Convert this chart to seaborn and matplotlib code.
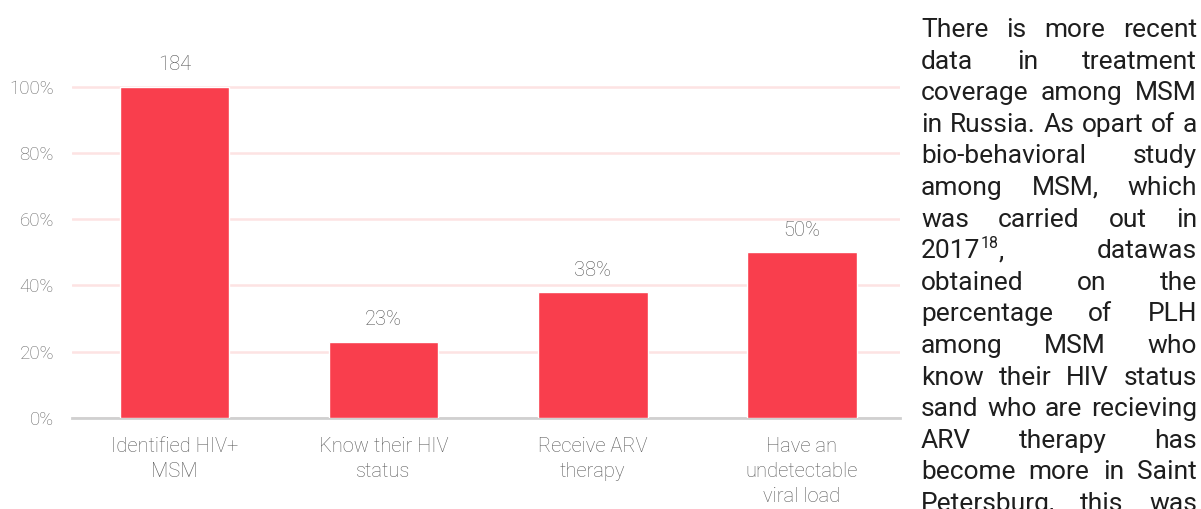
import matplotlib
matplotlib.use("Agg")
import matplotlib.pyplot as plt
import seaborn as sns

# data
categories = ["Identified HIV+\nMSM", "Know their HIV\nstatus", "Receive ARV\ntherapy",
              "Have an\nundetectable\nviral load"]
values = [100, 23, 38, 50]
value_labels = ["184", "23%", "38%", "50%"]
yticks = [0, 20, 40, 60, 80, 100]
ytick_labels = ["0%", "20%", "40%", "60%", "80%", "100%"]

paragraph = [
    "There is more recent",
    "data in treatment",
    "coverage among MSM",
    "in Russia. As opart of a",
    "bio-behavioral study",
    "among MSM, which",
    "was carried out in",
    "2017^18, datawas",
    "obtained on the",
    "percentage of PLH",
    "among MSM who",
    "know their HIV status",
    "sand who are recieving",
    "ARV therapy has",
    "become more in Saint",
    "Petersburg, this was",
]

bar_color = "#F93E4D"
W, H = 1201, 509

sns.set_theme(style="white")
plt.rcParams["font.family"] = ["Roboto", "DejaVu Sans"]

fig = plt.figure(figsize=(W / 100, H / 100), dpi=100)
ax = fig.add_axes([72 / W, (H - 418) / H, (900 - 72) / W, (418 - 60) / H])

sns.barplot(x=categories, y=values, color=bar_color, saturation=1, width=0.525, ax=ax, zorder=3)
ax.bar_label(ax.containers[0], labels=value_labels, padding=9, fontsize=14.5,
             color="#555555", fontweight="light")

ax.set_ylim(0, 108)
ax.set_xlim(-0.49, 3.47)
ax.set_yticks(yticks)
ax.set_yticklabels(ytick_labels)
ax.grid(axis="y", color="#FDE3E3", linewidth=1.8, zorder=0)
ax.set_axisbelow(True)
for side in ["top", "right", "left"]:
    ax.spines[side].set_visible(False)
ax.spines["bottom"].set_color("#D0D0D0")
ax.spines["bottom"].set_linewidth(2)
ax.tick_params(axis="y", length=0, pad=13, labelsize=13.5, labelcolor="#6A6A6A")
ax.tick_params(axis="x", length=0, pad=14, labelsize=14.5, labelcolor="#5A5A5A")
for t in ax.get_xticklabels():
    t.set_fontweight("light")
    t.set_linespacing(1.38)
    t.set_verticalalignment("top")
for t in ax.get_yticklabels():
    t.set_fontweight("light")
ax.set_xlabel("")
ax.set_ylabel("")

# justified paragraph on the right
fig.canvas.draw()
renderer = fig.canvas.get_renderer()
fsize = 19
left, right = 921, 1197
base0, step = 37, 31.6
txt_kw = dict(fontsize=fsize, color="#1E1E1E", va="baseline", ha="left")


def px_width(s, size):
    t = fig.text(0, 0, s, fontsize=size)
    w = t.get_window_extent(renderer).width
    t.remove()
    return w


def word_pieces(word):
    # returns list of (text, size, raise_px)
    if "^" in word:
        main, rest = word.split("^")
        sup = rest.rstrip(",")
        tail = rest[len(sup):]
        return [(main, fsize, 0), (sup, fsize * 0.6, 10), (tail, fsize, 0)]
    return [(word, fsize, 0)]


for i, line in enumerate(paragraph):
    words = line.split()
    pieces = [word_pieces(w) for w in words]
    widths = [sum(px_width(p[0], p[1]) for p in pcs if p[0]) for pcs in pieces]
    gap = (right - left - sum(widths)) / max(len(words) - 1, 1)
    x = left
    y = base0 + i * step
    for pcs, w in zip(pieces, widths):
        xx = x
        for text, size, rise in pcs:
            if not text:
                continue
            fig.text(xx / W, 1 - (y - rise) / H, text, **dict(txt_kw, fontsize=size))
            xx += px_width(text, size)
        x += w + gap

fig.savefig("out.png", dpi=100)
